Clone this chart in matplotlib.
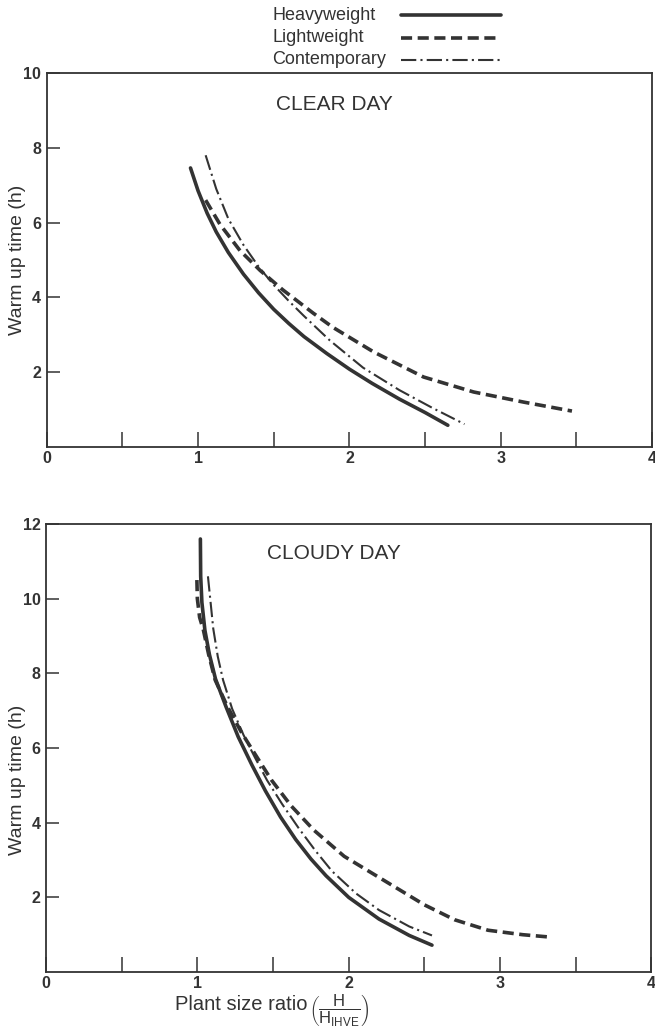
import matplotlib
matplotlib.use('Agg')
from matplotlib import pyplot as plt
from matplotlib.lines import Line2D

plt.rcParams['font.family'] = ['Liberation Sans', 'DejaVu Sans']
plt.rcParams['mathtext.fontset'] = 'custom'
plt.rcParams['mathtext.rm'] = 'Liberation Sans'
plt.rcParams['mathtext.it'] = 'Liberation Sans'
plt.rcParams['lines.scale_dashes'] = False

INK = '#333333'

# series names
names = ['Heavyweight', 'Lightweight', 'Contemporary']

# clear day
clear_heavy_x = [0.95, 1.0, 1.06, 1.12, 1.2, 1.3, 1.4, 1.5, 1.6, 1.7, 1.85, 2.0, 2.15, 2.33, 2.5, 2.65]
clear_heavy_y = [7.46, 6.85, 6.25, 5.75, 5.2, 4.62, 4.12, 3.68, 3.3, 2.95, 2.5, 2.08, 1.7, 1.28, 0.92, 0.58]
clear_light_x = [1.05, 1.145, 1.277, 1.41, 1.56, 1.673, 1.76, 1.89, 2.16, 2.49, 2.82, 3.15, 3.47]
clear_light_y = [6.6, 5.95, 5.25, 4.72, 4.2, 3.85, 3.58, 3.2, 2.54, 1.87, 1.47, 1.2, 0.96]
clear_cont_x = [1.05, 1.12, 1.2, 1.3, 1.4, 1.5, 1.6, 1.7, 1.87, 2.09, 2.33, 2.55, 2.76]
clear_cont_y = [7.8, 6.9, 6.1, 5.4, 4.82, 4.33, 3.9, 3.5, 2.85, 2.12, 1.52, 1.04, 0.61]

# cloudy day
cloudy_heavy_x = [1.02, 1.022, 1.03, 1.05, 1.08, 1.12, 1.19, 1.27, 1.36, 1.45, 1.55, 1.65, 1.75, 1.85,
                  2.0, 2.2, 2.4, 2.55]
cloudy_heavy_y = [11.6, 10.6, 9.9, 9.15, 8.5, 7.85, 7.1, 6.3, 5.55, 4.85, 4.15, 3.55, 3.03, 2.58,
                  2.0, 1.42, 0.98, 0.72]
cloudy_light_x = [0.997, 1.0, 1.015, 1.04, 1.075, 1.118, 1.2, 1.294, 1.39, 1.49, 1.62, 1.77, 1.97,
                  2.19, 2.5, 2.7, 2.92, 3.15, 3.32]
cloudy_light_y = [10.5, 10.0, 9.5, 9.16, 8.5, 7.82, 7.1, 6.4, 5.78, 5.14, 4.45, 3.8, 3.1,
                  2.56, 1.8, 1.4, 1.12, 1.0, 0.94]
cloudy_cont_x = [1.07, 1.085, 1.105, 1.135, 1.17, 1.23, 1.305, 1.38, 1.46, 1.56, 1.67, 1.78, 1.89,
                 2.05, 2.2, 2.4, 2.55]
cloudy_cont_y = [10.6, 10.0, 9.2, 8.45, 7.82, 7.05, 6.35, 5.75, 5.14, 4.5, 3.85, 3.25, 2.7,
                 2.1, 1.66, 1.22, 0.98]

x_ticks = [0, 0.5, 1, 1.5, 2, 2.5, 3, 3.5, 4]
x_labels = ['0', '', '1', '', '2', '', '3', '', '4']

styles = [
    dict(color=INK, lw=2.6, ls='-', solid_capstyle='round'),
    dict(color=INK, lw=2.6, ls=(0, (8, 4)), dash_capstyle='butt'),
    dict(color=INK, lw=1.5, ls=(0, (11, 3, 1.5, 3))),
]


def panel(ax, data, title, ymax, yticks, title_y):
    for (x, y), st in zip(data, styles):
        ax.plot(x, y, **st)
    ax.set_xlim(0, 4)
    ax.set_ylim(0, ymax)
    ax.set_xticks(x_ticks)
    ax.set_xticklabels(x_labels)
    ax.set_yticks(yticks)
    ax.set_yticklabels([str(v) for v in yticks])
    ax.tick_params(axis='x', direction='in', length=11, width=1.1, pad=3,
                   labelsize=11.5, colors=INK)
    ax.tick_params(axis='y', direction='in', length=9, width=1.1, pad=4,
                   labelsize=11.5, colors=INK)
    for lab in ax.get_xticklabels() + ax.get_yticklabels():
        lab.set_fontweight('bold')
    for sp in ax.spines.values():
        sp.set_linewidth(1.3)
        sp.set_color(INK)
    ax.text(0.475, title_y, title, transform=ax.transAxes, ha='center', va='center',
            fontsize=15, color=INK)


fig = plt.figure(figsize=(6.55, 10.32), dpi=100)
ax1 = fig.add_axes([0.0713, 0.5669, 0.9244, 0.3624])
ax2 = fig.add_axes([0.0702, 0.0581, 0.9244, 0.4341])

panel(ax1, [(clear_heavy_x, clear_heavy_y), (clear_light_x, clear_light_y),
            (clear_cont_x, clear_cont_y)], 'CLEAR DAY', 10, [2, 4, 6, 8, 10], 0.917)
panel(ax2, [(cloudy_heavy_x, cloudy_heavy_y), (cloudy_light_x, cloudy_light_y),
            (cloudy_cont_x, cloudy_cont_y)], 'CLOUDY DAY', 12, [2, 4, 6, 8, 10, 12], 0.935)

# y labels
fig.text(18 / 655, 1 - 260 / 1032, 'Warm up time (h)', rotation=90,
         ha='center', va='center', fontsize=14, color=INK)
fig.text(18 / 655, 1 - 780 / 1032, 'Warm up time (h)', rotation=90,
         ha='center', va='center', fontsize=14, color=INK)

# x label, words and fraction kept apart so the fraction sits lower
fig.text(175 / 655, 1 - 1004 / 1032, 'Plant size ratio',
         ha='left', va='center', fontsize=14.5, color=INK)
fig.text(309 / 655, 1 - 1010 / 1032,
         r'$\left(\dfrac{\mathrm{H}}{\mathrm{H}_{\mathrm{IHVE}}}\right)$',
         ha='left', va='center', fontsize=12, color=INK)

# legend at the top, text left of the line samples
rows = [15, 38, 60]
for name, st, yr in zip(names, styles, rows):
    yf = 1 - yr / 1032
    fig.text(272 / 655, yf, name, ha='left', va='center', fontsize=13, color=INK)
    fig.add_artist(Line2D([401 / 655, 501 / 655], [yf, yf], transform=fig.transFigure, **st))

fig.savefig('out.png', dpi=100)
